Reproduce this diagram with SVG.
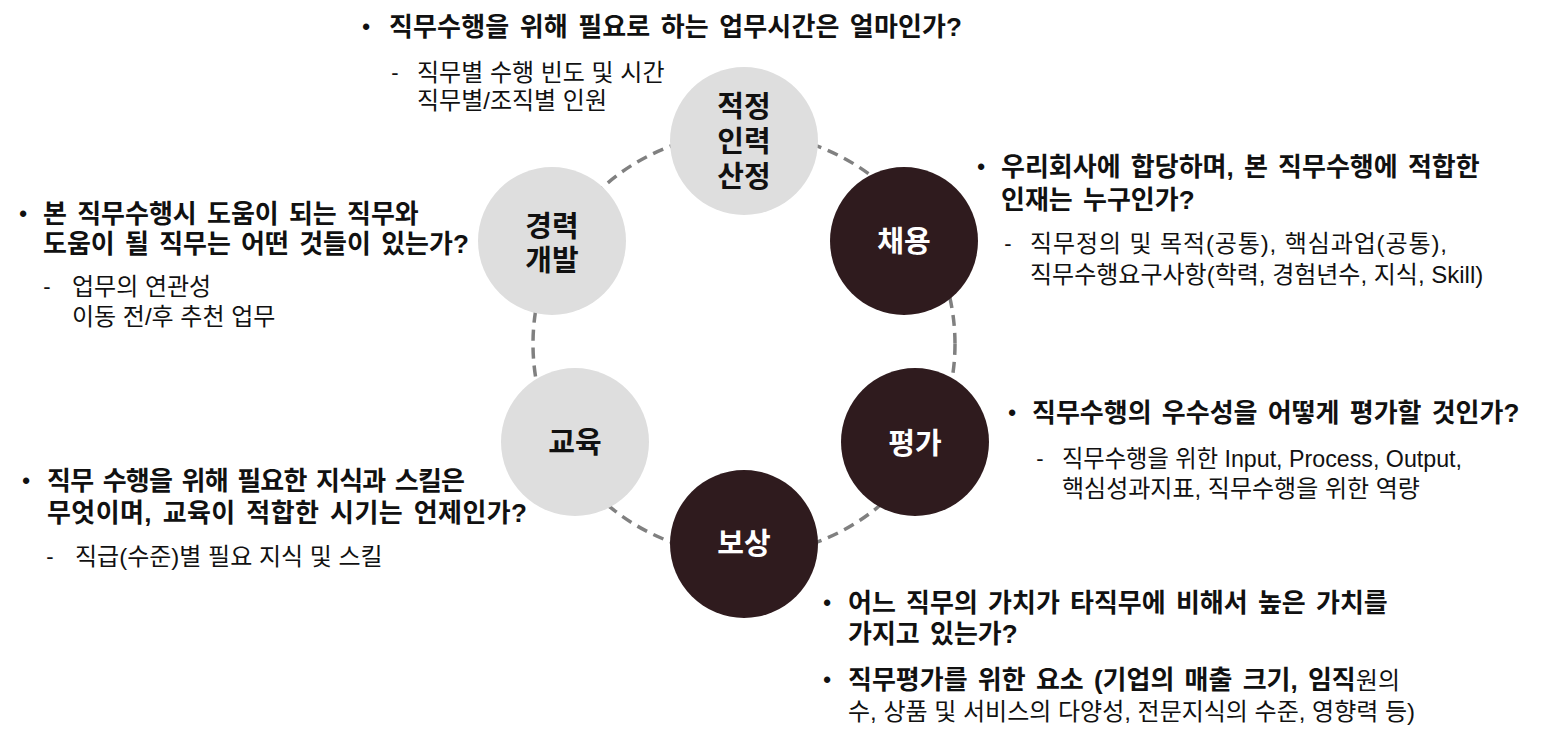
<svg xmlns="http://www.w3.org/2000/svg" width="1543" height="739" viewBox="0 0 1543 739">
<style>
  text { font-family: "Liberation Sans", "Noto Sans CJK KR", sans-serif; fill: #111111; }
  .h { font-size: 26px; font-weight: bold; word-spacing: 3px; }
  .s { font-size: 24px; font-weight: normal; }
  .b { font-size: 22px; font-weight: bold; text-anchor: middle; }
  .d { font-size: 22px; text-anchor: middle; }
  .lbl { font-family: "Noto Sans CJK KR", sans-serif; font-size: 29px; font-weight: bold; text-anchor: middle; }
  .light circle { fill: #dedede; }
  .dark circle { fill: #2f1b1e; }
  .dark text { fill: #ffffff; }
  .ring { fill: none; stroke: #808080; stroke-width: 3.5; stroke-dasharray: 11 7; }
</style>
<rect width="1543" height="739" fill="#ffffff"/>

<g id="connectors">
  <circle class="ring" cx="744" cy="344" r="211"/>
</g>

<g id="node-staffing" class="light">
  <circle cx="744" cy="141" r="74"/>
  <text class="lbl" x="744" y="117">적정<tspan x="744" dy="35">인력</tspan><tspan x="744" dy="35">산정</tspan></text>
</g>
<g id="node-recruit" class="dark">
  <circle cx="904" cy="241" r="74"/>
  <text class="lbl" x="904" y="252">채용</text>
</g>
<g id="node-evaluation" class="dark">
  <circle cx="915" cy="442" r="74"/>
  <text class="lbl" x="915" y="454">평가</text>
</g>
<g id="node-compensation" class="dark">
  <circle cx="744" cy="544" r="74"/>
  <text class="lbl" x="744" y="554">보상</text>
</g>
<g id="node-education" class="light">
  <circle cx="575" cy="442" r="74"/>
  <text class="lbl" x="575" y="453">교육</text>
</g>
<g id="node-career" class="light">
  <circle cx="552" cy="241" r="74"/>
  <text class="lbl" x="552" y="237">경력<tspan x="552" dy="34">개발</tspan></text>
</g>

<g id="note-staffing">
  <text class="b" x="366" y="34">•</text>
  <text class="h" x="389" y="36" textLength="573" lengthAdjust="spacing">직무수행을 위해 필요로 하는 업무시간은 얼마인가?</text>
  <text class="d" x="395" y="80">-</text>
  <text class="s" x="417" y="81">직무별 수행 빈도 및 시간</text>
  <text class="s" x="417" y="109">직무별/조직별 인원</text>
</g>

<g id="note-career">
  <text class="b" x="23" y="221">•</text>
  <text class="h" x="43" y="223">본 직무수행시 도움이 되는 직무와</text>
  <text class="h" x="43" y="253">도움이 될 직무는 어떤 것들이 있는가?</text>
  <text class="d" x="47" y="294">-</text>
  <text class="s" x="72" y="295">업무의 연관성</text>
  <text class="s" x="72" y="325">이동 전/후 추천 업무</text>
</g>

<g id="note-recruit">
  <text class="b" x="981" y="174">•</text>
  <text class="h" x="1001" y="176">우리회사에 합당하며, 본 직무수행에 적합한</text>
  <text class="h" x="1001" y="209">인재는 누구인가?</text>
  <text class="d" x="1008" y="251">-</text>
  <text class="s" x="1030" y="252" textLength="417" lengthAdjust="spacing">직무정의 및 목적(공통), 핵심과업(공통),</text>
  <text class="s" x="1030" y="283">직무수행요구사항(학력, 경험년수, 지식, Skill)</text>
</g>

<g id="note-evaluation">
  <text class="b" x="1012" y="420">•</text>
  <text class="h" x="1032" y="422">직무수행의 우수성을 어떻게 평가할 것인가?</text>
  <text class="d" x="1040" y="466">-</text>
  <text class="s" x="1062" y="467" textLength="400" lengthAdjust="spacingAndGlyphs">직무수행을 위한 Input, Process, Output,</text>
  <text class="s" x="1062" y="497">핵심성과지표, 직무수행을 위한 역량</text>
</g>

<g id="note-education">
  <text class="b" x="26" y="488">•</text>
  <text class="h" x="47" y="490" textLength="418" lengthAdjust="spacing">직무 수행을 위해 필요한 지식과 스킬은</text>
  <text class="h" x="47" y="522" textLength="480" lengthAdjust="spacing">무엇이며, 교육이 적합한 시기는 언제인가?</text>
  <text class="d" x="50" y="564">-</text>
  <text class="s" x="75" y="565">직급(수준)별 필요 지식 및 스킬</text>
</g>

<g id="note-compensation">
  <text class="b" x="827" y="610">•</text>
  <text class="h" x="848" y="612">어느 직무의 가치가 타직무에 비해서 높은 가치를</text>
  <text class="h" x="848" y="643">가지고 있는가?</text>
  <text class="b" x="827" y="687">•</text>
  <text class="h" x="848" y="689">직무평가를 위한 요소 (기업의 매출 크기, 임직<tspan style="font-weight:normal;font-size:24px;word-spacing:0">원의</tspan></text>
  <text class="s" x="848" y="720">수, 상품 및 서비스의 다양성, 전문지식의 수준, 영향력 등)</text>
</g>
</svg>
